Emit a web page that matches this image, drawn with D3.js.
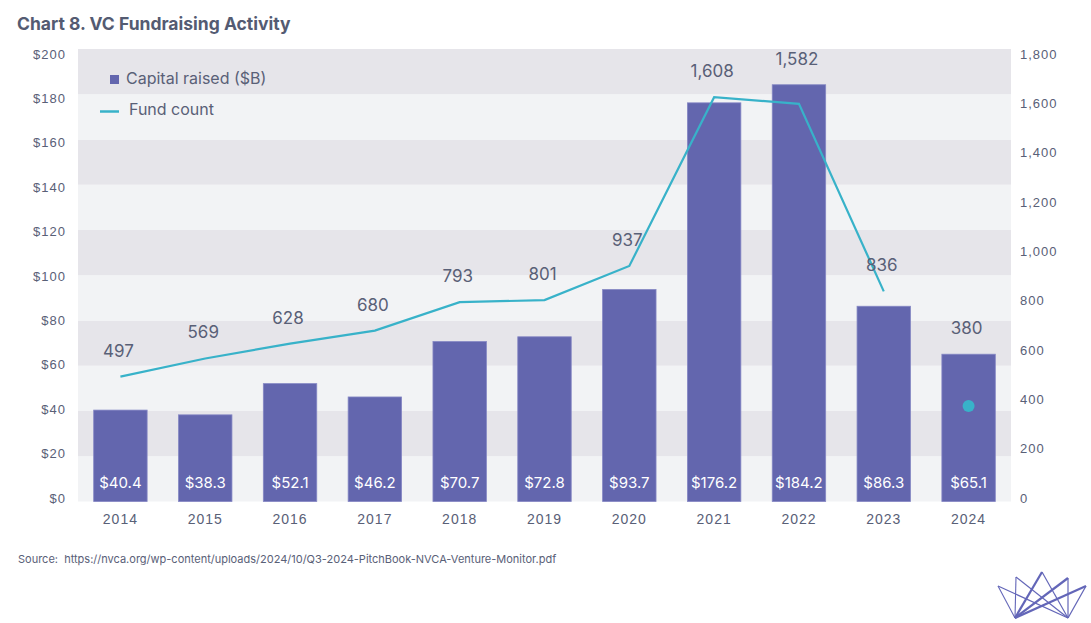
<!DOCTYPE html>
<html>
<head>
<meta charset="utf-8">
<script src="https://cdn.jsdelivr.net/npm/d3@7"></script>
<style>
  body { margin: 0; background: #fff; }
  svg { display: block; font-family: Inter, "Open Sans", sans-serif; }
</style>
</head>
<body>
<script>
const years = ["2014", "2015", "2016", "2017", "2018", "2019", "2020", "2021", "2022", "2023", "2024"];
const capital = [40.4, 38.3, 52.1, 46.2, 70.7, 72.8, 93.7, 176.2, 184.2, 86.3, 65.1];
const fundCount = [497, 569, 628, 680, 793, 801, 937, 1608, 1582, 836, 380];
const leftTicks = [0, 20, 40, 60, 80, 100, 120, 140, 160, 180, 200];
const rightTicks = [0, 200, 400, 600, 800, 1000, 1200, 1400, 1600, 1800];

const width = 1091, height = 623;
const margin = { top: 49, right: 80, bottom: 121, left: 78 };
const textColor = "#596077";
const barColor = "#6366ae";
const lineColor = "#38b2c9";

const svg = d3.select("body").append("svg")
  .attr("width", width)
  .attr("height", height);

const x = d3.scaleBand().domain(years)
  .range([margin.left, width - margin.right])
  .paddingInner(0.37).paddingOuter(0.185);
const yL = d3.scaleLinear().domain([0, 200]).range([height - margin.bottom - 0.5, margin.top]);
const yR = d3.scaleLinear().domain([0, 1800]).range([height - margin.bottom - 0.5, margin.top]);

// tick labels sit slightly inside the plot top/bottom in the original
const yLabelL = yL.copy().range([498, 54]);
const yLabelR = yR.copy().range([498, 54]);

// alternating bands
svg.append("g").selectAll("rect")
  .data(leftTicks.slice(0, -1))
  .enter().append("rect")
  .attr("x", margin.left)
  .attr("width", width - margin.right - margin.left)
  .attr("y", (d) => yL(d + 20))
  .attr("height", (d) => yL(d) - yL(d + 20))
  .attr("fill", (d, i) => (i % 2 === 0 ? "#f2f3f5" : "#e6e5ea"));

// left axis
const axisL = d3.axisLeft(yLabelL).tickValues(leftTicks).tickSize(0).tickPadding(10)
  .tickFormat((d) => "$" + d);
svg.append("g")
  .attr("transform", "translate(" + (margin.left - 2) + ",0)")
  .call(axisL)
  .call((g) => g.select(".domain").remove())
  .selectAll("text")
  .attr("fill", textColor)
  .attr("font-size", "13px")
  .attr("letter-spacing", "1px");

// right axis
const axisR = d3.axisRight(yLabelR).tickValues(rightTicks).tickSize(0).tickPadding(10)
  .tickFormat(d3.format(","));
svg.append("g")
  .attr("transform", "translate(" + (width - margin.right - 1) + ",0)")
  .call(axisR)
  .call((g) => g.select(".domain").remove())
  .selectAll("text")
  .attr("fill", textColor)
  .attr("font-size", "13px")
  .attr("letter-spacing", "1px");

// x axis
const axisX = d3.axisBottom(x).tickSize(0).tickPadding(12);
svg.append("g")
  .attr("transform", "translate(0," + (height - margin.bottom) + ")")
  .call(axisX)
  .call((g) => g.select(".domain").remove())
  .selectAll("text")
  .attr("fill", textColor)
  .attr("font-size", "14px")
  .attr("letter-spacing", "1px");

// bars
svg.append("g").selectAll("rect")
  .data(capital)
  .enter().append("rect")
  .attr("x", (d, i) => x(years[i]))
  .attr("width", x.bandwidth())
  .attr("y", (d) => yL(d))
  .attr("height", (d) => yL(0) - yL(d))
  .attr("fill", barColor)
  .attr("stroke", "#8587c4")
  .attr("stroke-width", 0.8);

svg.append("g").selectAll("text")
  .data(capital)
  .enter().append("text")
  .attr("x", (d, i) => x(years[i]) + x.bandwidth() / 2)
  .attr("y", yL(0) - 14)
  .attr("text-anchor", "middle")
  .attr("fill", "#fff")
  .attr("font-size", "15px")
  .text((d) => "$" + d.toFixed(1));

// fund count line (2014-2023), 2024 shown as a dot
const cx = (i) => x(years[i]) + x.bandwidth() / 2;
const line = d3.line()
  .x((d, i) => cx(i))
  .y((d) => yR(d));
svg.append("path")
  .datum(fundCount.slice(0, -1))
  .attr("d", line)
  .attr("fill", "none")
  .attr("stroke", lineColor)
  .attr("stroke-width", 2.2);

const last = fundCount.length - 1;
svg.append("circle")
  .attr("cx", cx(last))
  .attr("cy", yR(fundCount[last]))
  .attr("r", 6)
  .attr("fill", lineColor);

// count labels above the higher of bar / point
svg.append("g").selectAll("text")
  .data(fundCount)
  .enter().append("text")
  .attr("x", (d, i) => cx(i) - 2)
  .attr("y", (d, i) => Math.min(yR(d), yL(capital[i])) - 20)
  .attr("text-anchor", "middle")
  .attr("fill", textColor)
  .attr("font-size", "17px")
  .text((d) => d3.format(",")(d));

// legend
svg.append("rect")
  .attr("x", 110).attr("y", 75)
  .attr("width", 9).attr("height", 9)
  .attr("fill", barColor);
svg.append("text")
  .attr("x", 126).attr("y", 80)
  .attr("dominant-baseline", "middle")
  .attr("fill", textColor)
  .attr("font-size", "16px")
  .text("Capital raised ($B)");
svg.append("line")
  .attr("x1", 100).attr("x2", 119)
  .attr("y1", 111.5).attr("y2", 111.5)
  .attr("stroke", lineColor)
  .attr("stroke-width", 2.5);
svg.append("text")
  .attr("x", 129).attr("y", 111)
  .attr("dominant-baseline", "middle")
  .attr("fill", textColor)
  .attr("font-size", "16px")
  .text("Fund count");

// title and source
svg.append("text")
  .attr("x", 17).attr("y", 30)
  .attr("fill", "#545b72")
  .attr("font-size", "17.5px")
  .attr("font-weight", "bold")
  .text("Chart 8. VC Fundraising Activity");
svg.append("text")
  .attr("x", 18).attr("y", 563)
  .attr("fill", textColor)
  .attr("font-size", "11px")
  .attr("xml:space", "preserve")
  .style("white-space", "pre")
  .text("Source:  https://nvca.org/wp-content/uploads/2024/10/Q3-2024-PitchBook-NVCA-Venture-Monitor.pdf");

// logo
const logo = svg.append("g")
  .attr("fill", "none")
  .attr("stroke", "#6366b8")
  .attr("stroke-width", 1.2);
const bl = [1015, 618], br = [1068, 618];
const peaks = [[998, 586], [1016, 577], [1042, 572], [1068, 578], [1086, 586]];
peaks.forEach((p, i) => {
  logo.append("line").attr("x1", bl[0]).attr("y1", bl[1]).attr("x2", p[0]).attr("y2", p[1])
    .attr("stroke-width", i >= 2 ? 2.2 : 1.1);
  logo.append("line").attr("x1", br[0]).attr("y1", br[1]).attr("x2", p[0]).attr("y2", p[1]);
});
</script>
</body>
</html>
